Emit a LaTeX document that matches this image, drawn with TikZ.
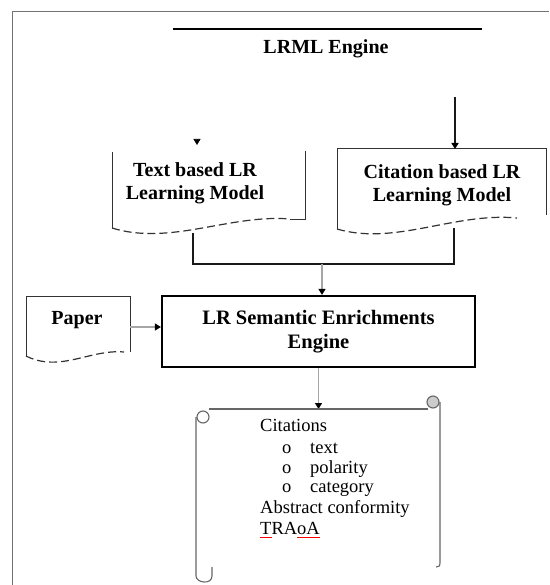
\documentclass[tikz,border=0pt]{standalone}
\usepackage{fontspec}
\setmainfont{Liberation Serif}
\usetikzlibrary{arrows.meta}
% red spell-check style underline under a piece of text
\newcommand\redmark[1]{\setbox0\hbox{#1}\rlap{\textcolor{red}{\rule[-4pt]{\wd0}{1.3pt}}}\box0}
\tikzset{
  boxtext/.style={font=\fontsize{20}{23}\selectfont\bfseries, align=center, inner sep=0pt},
  scrolltext/.style={font=\fontsize{18.5}{21}\selectfont, anchor=mid west, inner sep=0pt},
  outline/.style={draw=black!80, line width=1pt},
  wave/.style={draw=black!80, line width=1.2pt, dash pattern=on 8pt off 4pt},
  link/.style={draw=black!90, line width=1.4pt},
  graylink/.style={draw=black!35, line width=1.2pt},
  tip/.style={-{Triangle[width=7pt,length=6pt,color=black]}},
  scrollline/.style={draw=black!60, line width=1.1pt},
}
\begin{document}
\begin{tikzpicture}[x=1pt,y=-1pt]
\useasboundingbox (0,0) rectangle (549,585);
\fill[white] (0,0) rectangle (549,585);

% page frame
\draw[black!55, line width=0.8pt] (12,585) -- (12,11) -- (549,11);

% LRML engine header
\draw[line width=2pt] (173,29) -- (482,29);
\node[boxtext, anchor=mid] (lrml) at (326,51) {LRML Engine};

% text based learning model (document shape)
\draw[outline] (112,152) -- (112,228);
\draw[outline] (305,151) -- (305,219) -- (290,219);
\draw[wave] (112,228) .. controls (170,246) and (230,214) .. (290,219);
\node[boxtext] (tbox) at (195,183) {Text based LR\\Learning Model};
\draw[tip, line width=0.6pt] (197,139.5) -- (197,145);

% citation based learning model (document shape)
\draw[outline] (337,229) -- (337,149) -- (546,149) -- (546,215);
\draw[wave] (337,229) .. controls (395,246) and (455,212) .. (517,218);
\node[boxtext] (cbox) at (442,185) {Citation based LR\\Learning Model};
\coordinate (srcR) at (455,97);
\coordinate (cbTop) at (455,149);
\draw[link, tip, line width=1.7pt] (srcR) -- (cbTop);

% joining both models
\coordinate (tbOut) at (193,233);
\coordinate (cbOut) at (454,228);
\coordinate (join) at (322,264);
\draw[link] (tbOut) |- (join) -| (cbOut);

% semantic enrichment engine
\node[draw=black, line width=2.2pt, minimum width=313pt, minimum height=71pt,
      boxtext, font=\fontsize{20.5}{24}\selectfont\bfseries] (eng) at (318.5,331.5)
      {LR Semantic Enrichments\\Engine};
\draw[graylink, tip] (join) -- (join |- eng.north);

% paper input
\draw[outline] (26,356) -- (26,296) -- (130,296) -- (130,352);
\draw[wave] (26,356) .. controls (60,373) and (90,349) .. (124,352);
\node[boxtext, anchor=mid] (paper) at (77,322) {Paper};
\coordinate (paperOut) at (130,327);
\draw[graylink, tip] (paperOut) -- (paperOut -| eng.west);

% output scroll
\coordinate (scrollTop) at (318.5,409);
\draw[graylink, tip] (eng.south) -- (scrollTop);
\draw[scrollline] (209,409) -- (428,409);
\draw[scrollline, fill=black!20] (433,402) circle (6pt);
\draw[scrollline] (440,402) -- (440,563) .. controls (440,566) .. (436,567);
\draw[scrollline] (203,417) circle (6pt);
\draw[scrollline] (196,417) -- (196,576) .. controls (196,583) and (212,585) .. (212,576) -- (212,567);

\node[scrolltext] (cit) at (260,429) {Citations};
\node[scrolltext] (b1) at (282,451) {o};
\node[scrolltext] (i1) at (310,451) {text};
\node[scrolltext] (b2) at (282,471) {o};
\node[scrolltext] (i2) at (310,471) {polarity};
\node[scrolltext] (b3) at (282,490) {o};
\node[scrolltext] (i3) at (310,490) {category};
\node[scrolltext] (abs) at (260,511) {Abstract conformity};
\node[scrolltext] (tra) at (260,532) {\redmark{T}RA\redmark{oA}};
\end{tikzpicture}
\end{document}
